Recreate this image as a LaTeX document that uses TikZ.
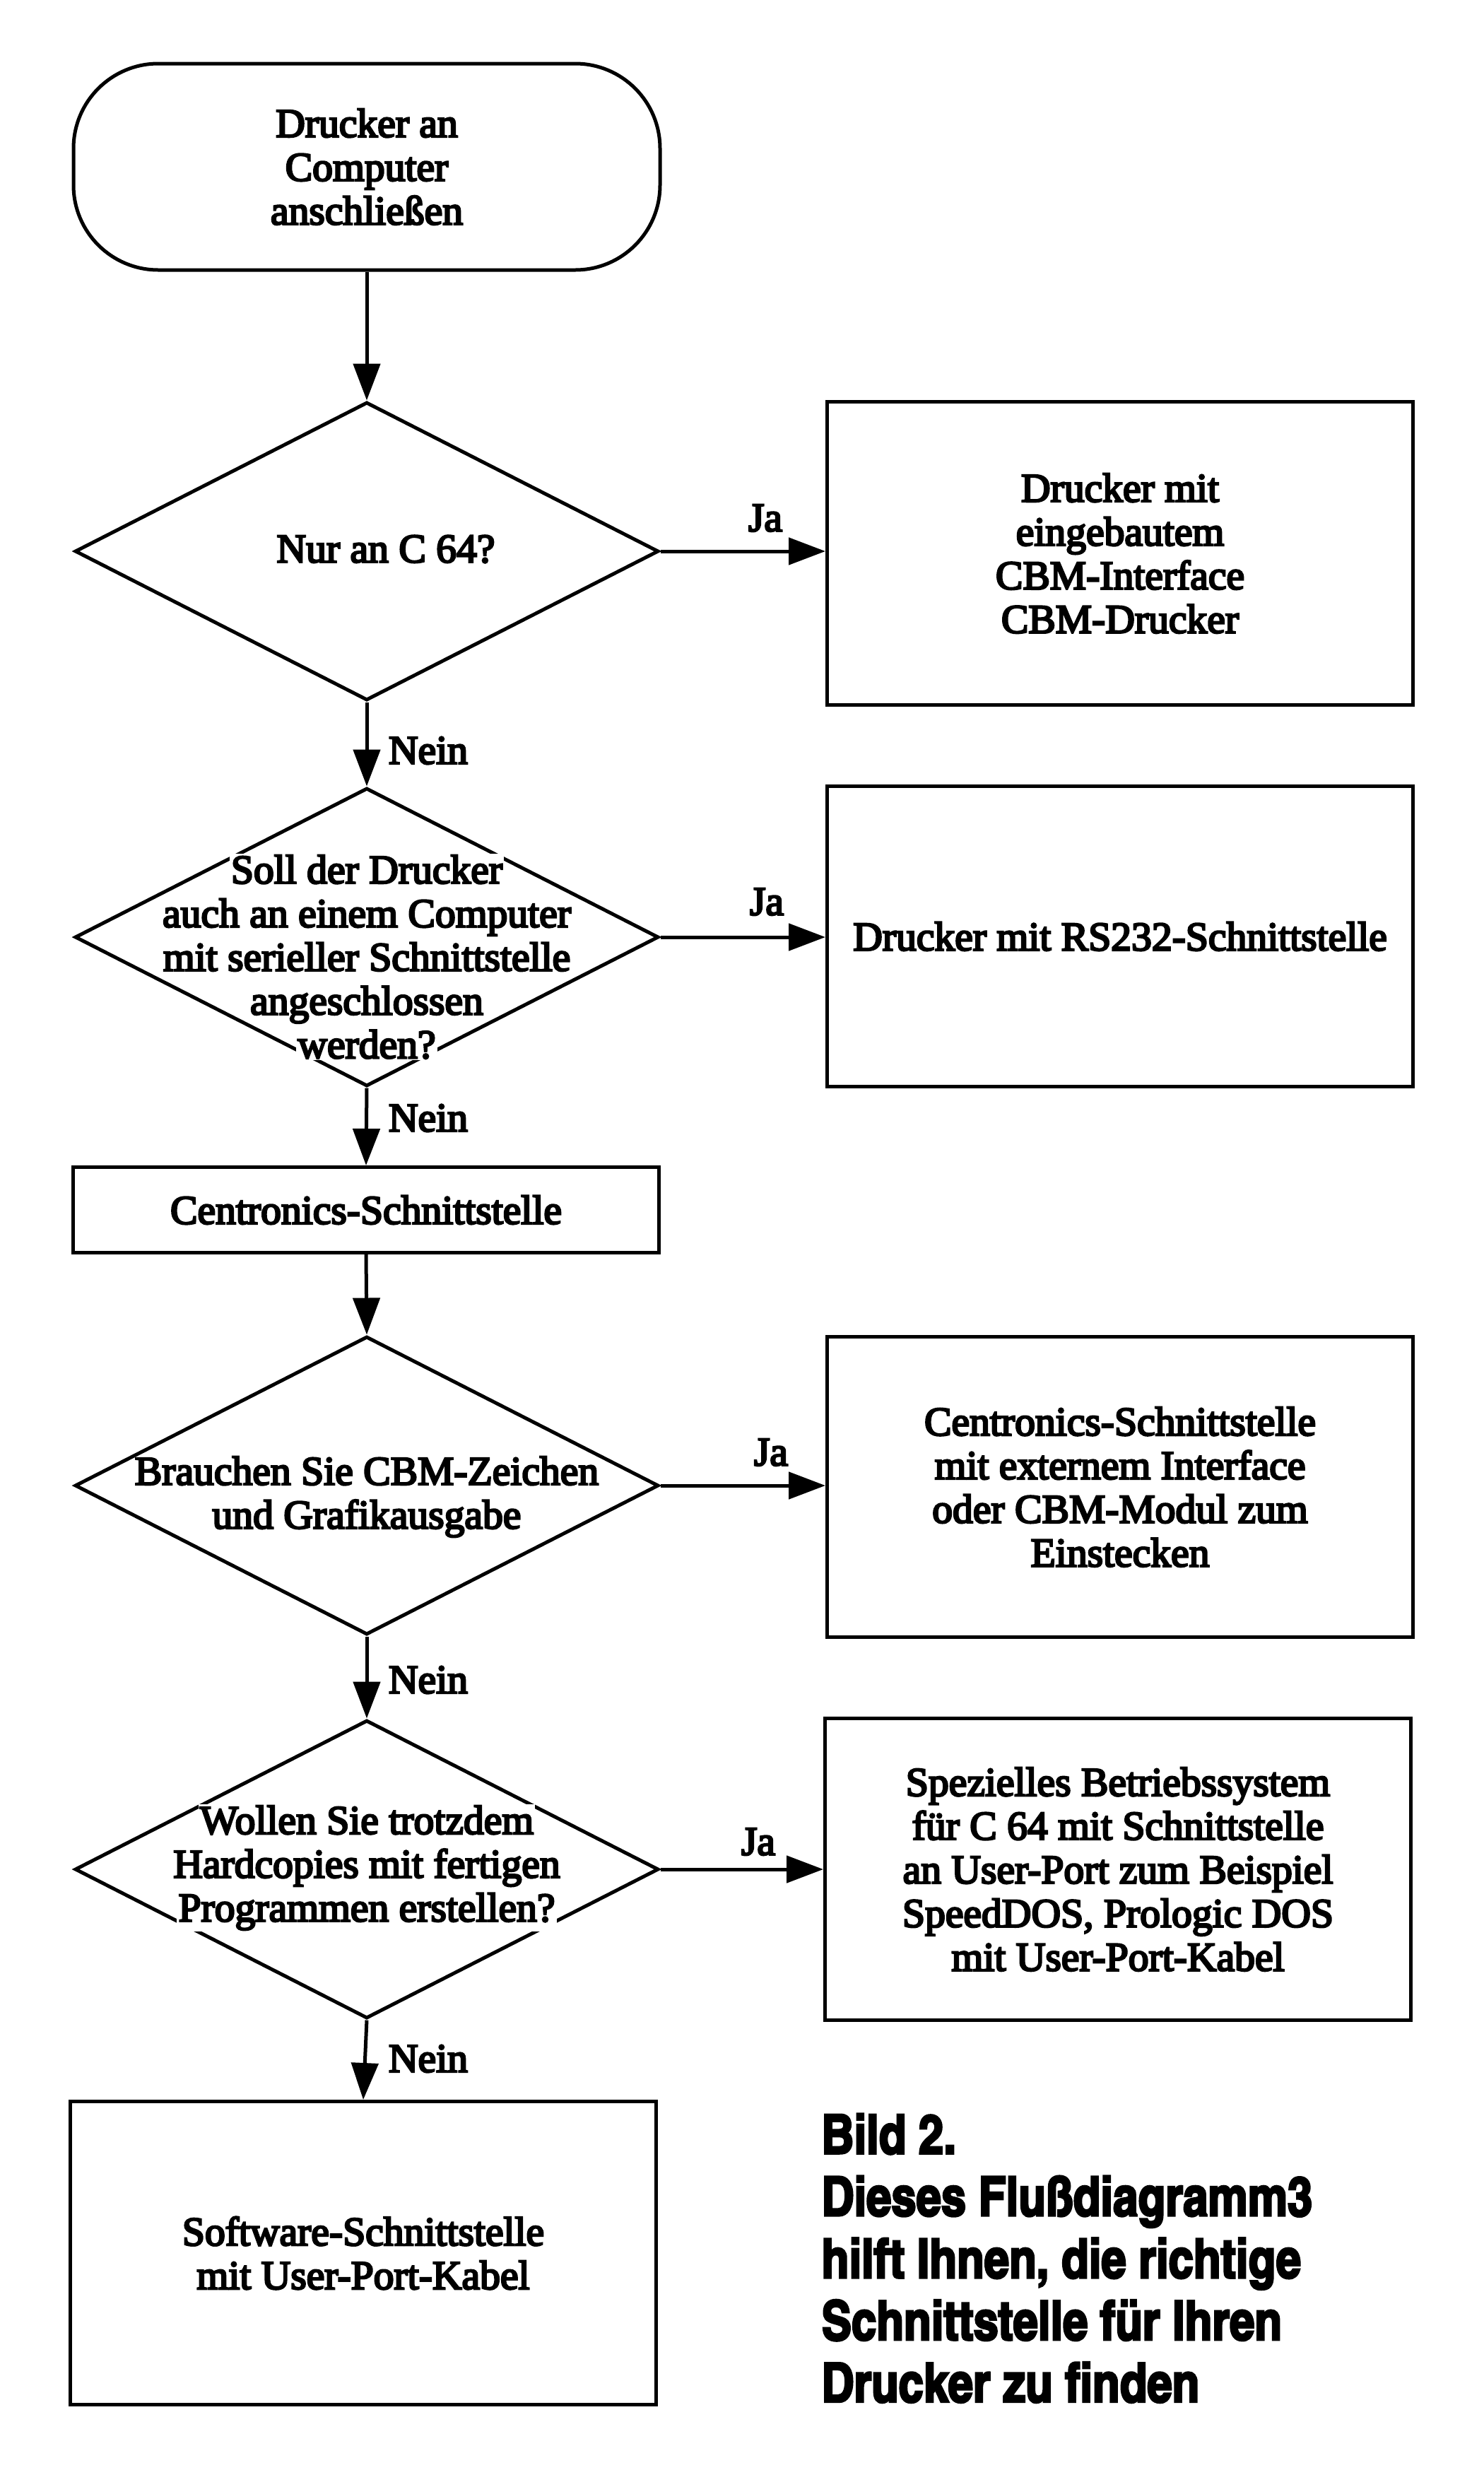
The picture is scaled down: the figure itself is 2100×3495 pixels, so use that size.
\documentclass[tikz,border=0pt]{standalone}
\usepackage{fontspec}
\setmainfont{Liberation Serif}[FakeBold=4.5]
\newfontfamily\capfont{texgyreheroscn-bold.otf}[FakeBold=3.5]
\usetikzlibrary{shapes.geometric,arrows.meta}
\newcommand\knockout[1]{{\setlength\fboxsep{0.6pt}\colorbox{white}{#1}}}
\begin{document}
\begin{tikzpicture}[x=0.1mm,y=-0.1mm,
  every node/.style={inner sep=0pt},
  txt/.style={font=\fontsize{16.4}{17.6}\selectfont, align=center},
  box/.style={draw, line width=0.5mm, minimum width=82.9mm, txt},
  dia/.style={draw, diamond, line width=0.5mm, minimum width=82.6mm, minimum height=42.2mm},
  term/.style={draw, rounded corners=12mm, line width=0.5mm, minimum width=83mm, minimum height=29.2mm, txt},
  conn/.style={line width=0.5mm, -{Triangle[length=5.2mm,width=3.8mm]}},
  lbl/.style={font=\fontsize{16.4}{17.6}\selectfont},
  captxt/.style={font=\capfont\fontsize{22}{25}\selectfont, align=left},
]
\useasboundingbox (0,0) rectangle (2100,3495);

% left column
\node[term] (start) at (519,236) {Drucker an\\Computer\\anschließen};
\node[dia] (d1) at (519,780) {};
\node[txt] (d1t) at (546,777) {Nur an C 64?};
\node[dia] (d2) at (519,1326) {};
\node[txt] (d2t) at (519,1354) {\knockout{Soll der Drucker}\\auch an einem Computer\\mit serieller Schnittstelle\\angeschlossen\\\knockout{werden?}};
\node[box, minimum height=12.1mm] (cen) at (518,1712) {Centronics-Schnittstelle};
\node[dia] (d3) at (519,2102) {};
\node[txt] (d3t) at (519,2118) {Brauchen Sie CBM-Zeichen\\und Grafikausgabe};
\node[dia] (d4) at (519,2645) {};
\node[txt] (d4t) at (519,2643) {\knockout{Wollen Sie trotzdem}\\Hardcopies mit fertigen\\\knockout{Programmen erstellen?}};
\node[box, minimum height=42.9mm] (b5) at (514,3188) {Software-Schnittstelle\\mit User-Port-Kabel};

% right column
\node[box, minimum height=42.9mm] (b1) at (1585,783) {Drucker mit\\eingebautem\\CBM-Interface\\CBM-Drucker};
\node[box, minimum height=42.5mm] (b2) at (1585,1325) {Drucker mit RS232-Schnittstelle};
\node[box, minimum height=42.5mm] (b3) at (1585,2104) {Centronics-Schnittstelle\\mit externem Interface\\oder CBM-Modul zum\\Einstecken};
\node[box, minimum height=42.7mm] (b4) at (1582,2645) {Spezielles Betriebssystem\\für C 64 mit Schnittstelle\\an User-Port zum Beispiel\\SpeedDOS, Prologic DOS\\mit User-Port-Kabel};

% connectors
\draw[conn] (start) -- (d1.north);
\draw[conn] (d1.east) -- (d1.east -| b1.west);
\draw[conn] (d1.south) -- (d2.north);
\draw[conn] (d2.east) -- (d2.east -| b2.west);
\draw[conn] (d2.south) -- (cen.north);
\draw[conn] (cen.south) -- (d3.north);
\draw[conn] (d3.east) -- (d3.east -| b3.west);
\draw[conn] (d3.south) -- (d4.north);
\draw[conn] (d4.east) -- (d4.east -| b4.west);
\draw[conn] (d4.south) -- (b5.north);

% labels
\node[lbl] (ja1) at (1083,733) {Ja};
\node[lbl] (ja2) at (1085,1276) {Ja};
\node[lbl] (ja3) at (1091,2055) {Ja};
\node[lbl] (ja4) at (1073,2606) {Ja};
\node[lbl] (nein1) at (606,1062) {Nein};
\node[lbl] (nein2) at (606,1582) {Nein};
\node[lbl] (nein3) at (606,2377) {Nein};
\node[lbl] (nein4) at (606,2913) {Nein};

% caption
\node[captxt, anchor=north west] (cap) at (1162,2990) {Bild 2.\\Dieses Flußdiagramm3\\hilft Ihnen, die richtige\\Schnittstelle für Ihren\\Drucker zu finden};
\end{tikzpicture}
\end{document}
